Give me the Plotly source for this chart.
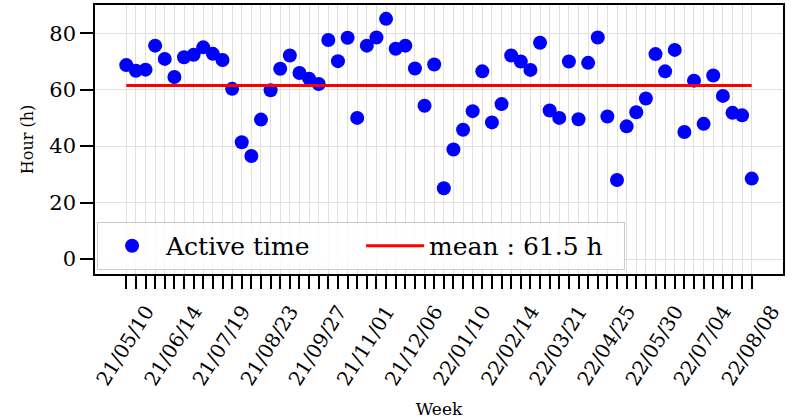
import pandas as pd
import plotly.graph_objects as go

# Weekly categories (Mondays) and active hours per week
weeks = list(pd.date_range("2021-05-10", periods=66, freq="7D").strftime("%y/%m/%d"))
active_hours = [
    68.7, 66.7, 67.1, 75.6, 70.9, 64.5, 71.5, 72.4, 75.0, 72.7,
    70.5, 60.3, 41.4, 36.5, 49.4, 59.8, 67.4, 72.1, 65.9, 63.9,
    62.0, 77.6, 70.1, 78.4, 50.0, 75.6, 78.5, 85.1, 74.5, 75.6,
    67.5, 54.3, 68.9, 25.1, 38.8, 45.8, 52.4, 66.5, 48.4, 54.9,
    72.1, 70.0, 67.0, 76.6, 52.6, 50.0, 70.0, 49.5, 69.5, 78.5,
    50.5, 28.0, 47.0, 52.0, 56.9, 72.6, 66.5, 74.1, 45.0, 63.2,
    47.9, 65.0, 57.8, 51.8, 50.9, 28.5,
]
tick_labels = [w if i % 5 == 0 else "" for i, w in enumerate(weeks)]
y_ticks = [0, 20, 40, 60, 80]

mean_val = sum(active_hours) / len(active_hours)

FONT = "DejaVu Serif"

fig = go.Figure()
fig.add_trace(go.Scatter(
    x=weeks, y=active_hours, mode="markers", name="Active time",
    marker=dict(color="#0000ff", size=14, line=dict(width=0)),
))
fig.add_trace(go.Scatter(
    x=[weeks[0], weeks[-1]], y=[mean_val, mean_val], mode="lines",
    name=f"mean : {mean_val:.1f} h",
    line=dict(color="#ff0000", width=3),
))

fig.update_layout(
    width=800, height=419,
    margin=dict(l=95, r=17, t=5, b=145),
    paper_bgcolor="white", plot_bgcolor="white",
    font=dict(family=FONT, size=20, color="black"),
    showlegend=True,
    legend=dict(
        orientation="h", x=0.003, y=0.015, xanchor="left", yanchor="bottom",
        bgcolor="rgba(255,255,255,0.85)", bordercolor="#cccccc", borderwidth=1,
        font=dict(family=FONT, size=25, color="black"),
        entrywidth=190, entrywidthmode="pixels", itemwidth=58,
    ),
)
fig.update_xaxes(
    type="category", automargin=False,
    range=[-3.25, len(weeks) - 1 + 3.25],
    tickmode="array", tickvals=weeks, ticktext=tick_labels,
    tickangle=-58, tickfont=dict(family=FONT, size=20, color="black"),
    ticklabelshift=20, ticklabelstandoff=3,
    ticks="outside", ticklen=13, tickwidth=1.5, tickcolor="black",
    showgrid=True, gridcolor="#e0e0e0", gridwidth=1,
    showline=True, linecolor="black", linewidth=1.5, mirror=True,
    title=dict(text="Week", font=dict(family=FONT, size=17, color="black"), standoff=18),
)
fig.update_yaxes(
    automargin=False,
    range=[-5.3, 90],
    tickmode="array", tickvals=y_ticks,
    tickfont=dict(family=FONT, size=21, color="black"),
    ticks="outside", ticklen=13, tickwidth=1.5, tickcolor="black",
    showgrid=True, gridcolor="#e0e0e0", gridwidth=1, zeroline=False,
    showline=True, linecolor="black", linewidth=1.5, mirror=True,
    title=dict(text="Hour (h)", font=dict(family=FONT, size=16, color="black"), standoff=12),
)

fig.write_html(
    "out.html",
    config={"displayModeBar": False},
    post_script="document.body.style.margin='0';",
)
